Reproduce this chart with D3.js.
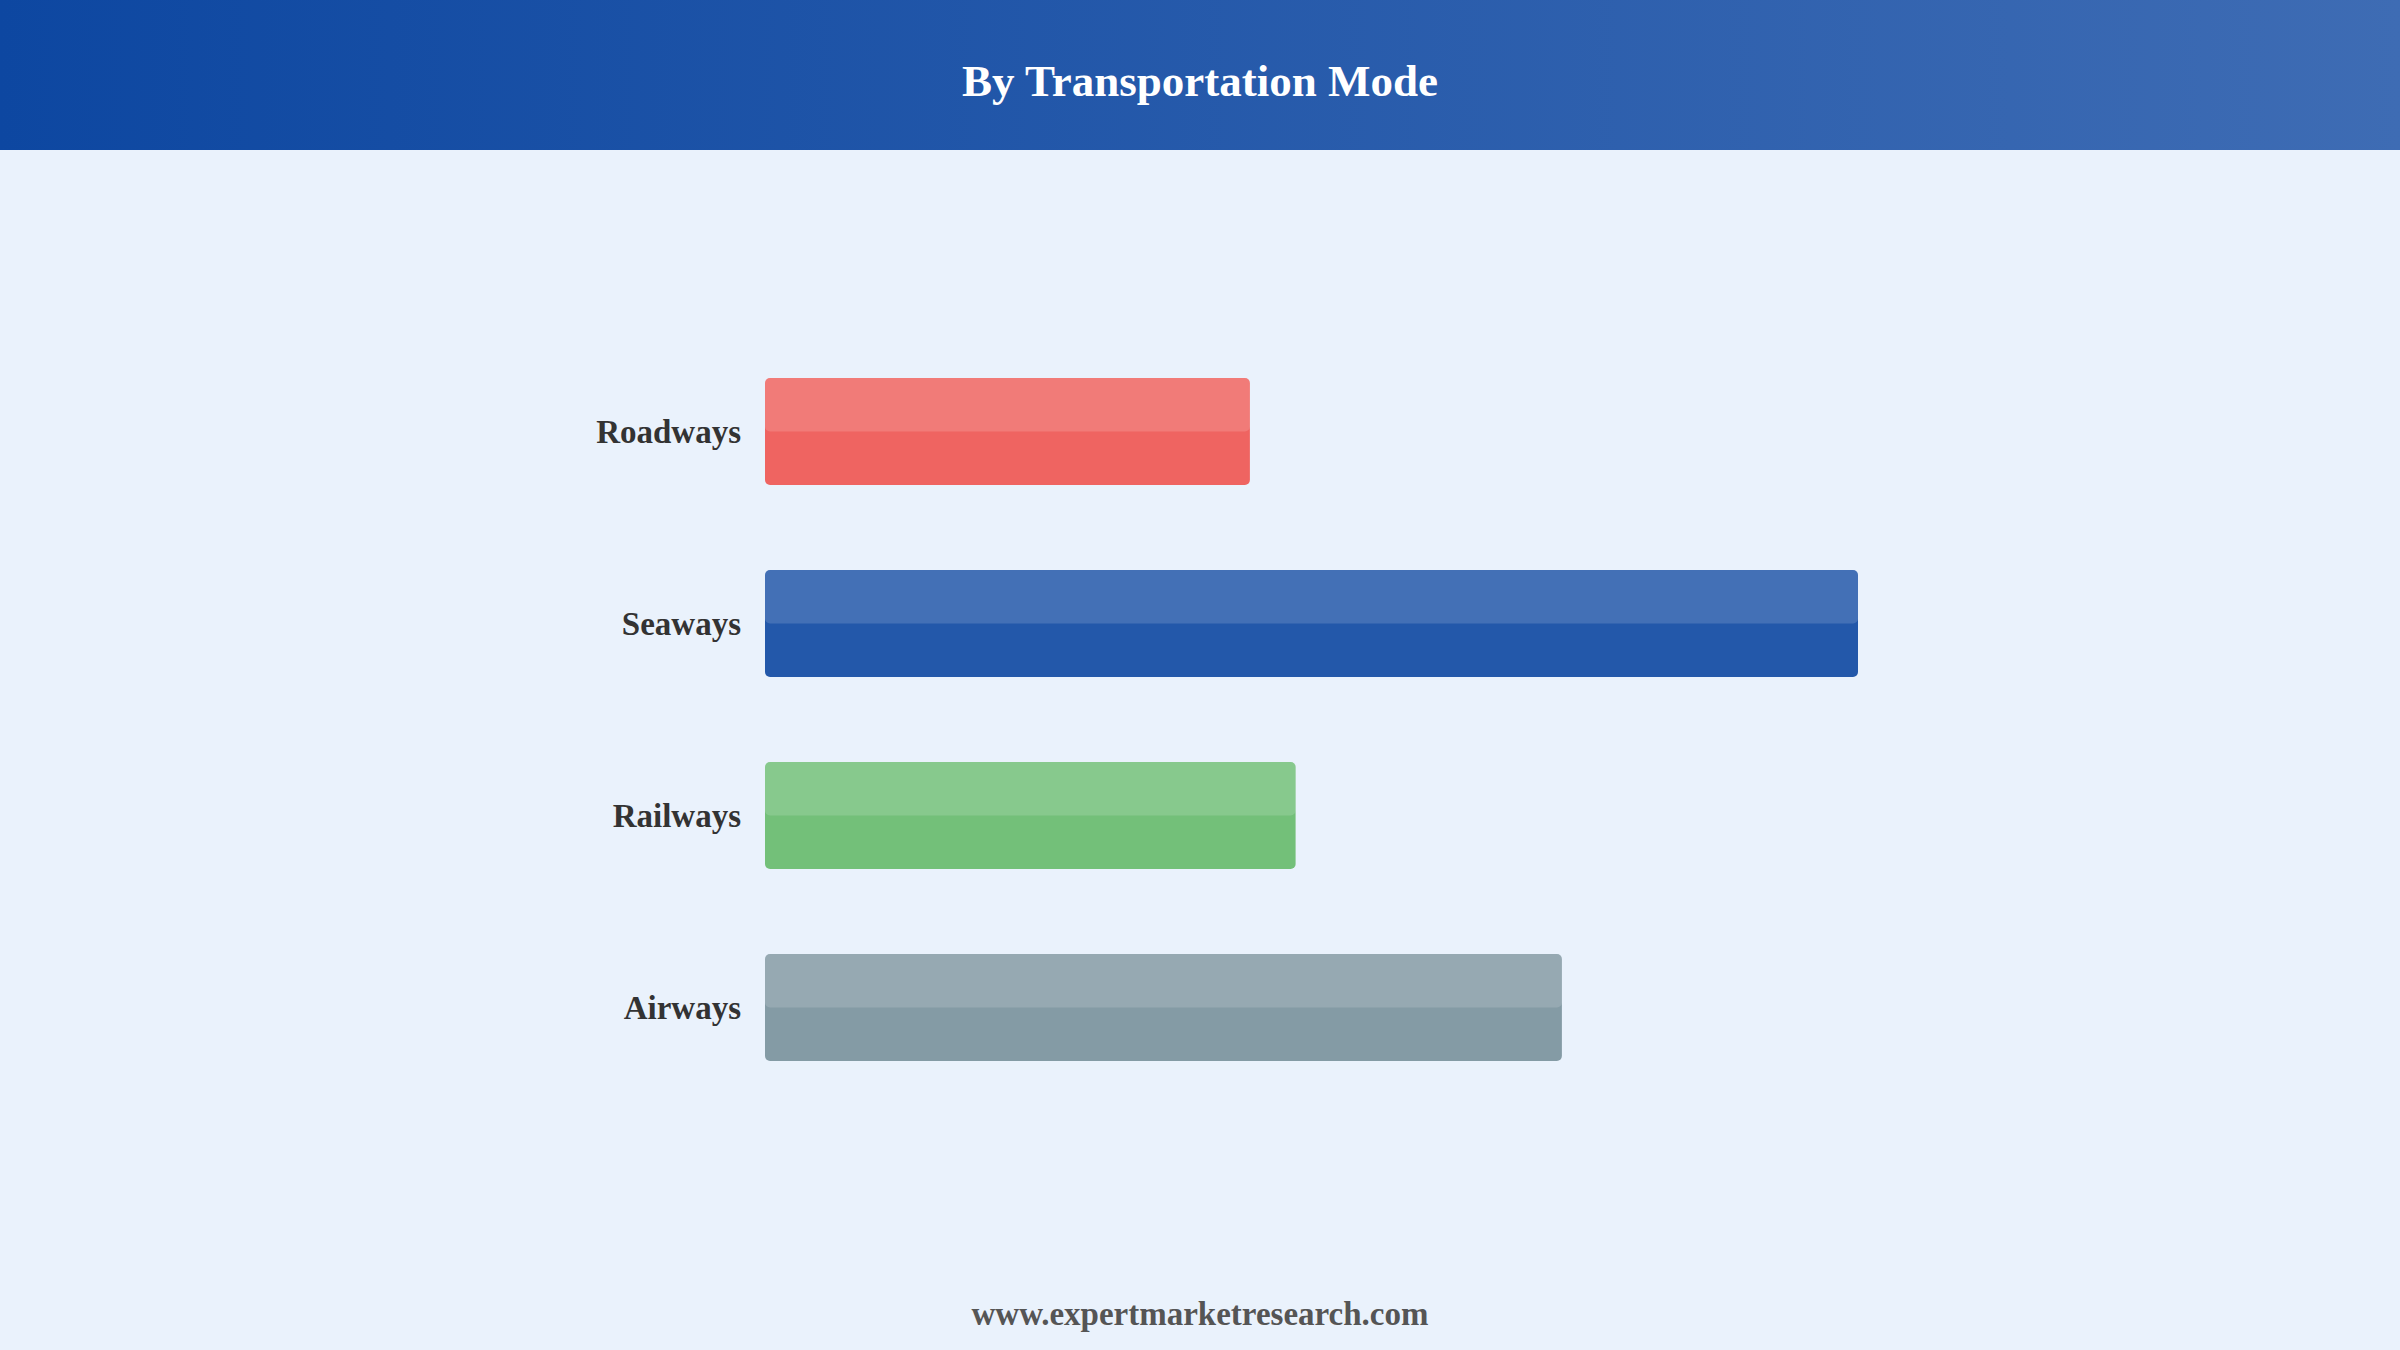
<!DOCTYPE html>
<html>
<head>
<meta charset="utf-8">
<script src="https://cdn.jsdelivr.net/npm/d3@7"></script>
<style>
    html, body { margin: 0; padding: 0; background: #eaf2fc; }
    #chart { width: 2400px; height: 1350px; }
    .label text { font-family: "Liberation Serif", "Times New Roman", serif; font-weight: bold; font-size: 33px; fill: #333; }
</style>
</head>
<body>
<div id="chart"></div>
<script>

const modes = ["Roadways", "Seaways", "Railways", "Airways"];
const shares = [24.4, 55.0, 26.7, 40.1];
const barColors = ["#ef6461", "#2358aa", "#73c079", "#849ba5"];

const title = "By Transportation Mode";
const source = "www.expertmarketresearch.com";

const data = modes.map(function(m, i) { return {mode: m, value: shares[i], color: barColors[i]}; });

const width = 2400;
const height = 1350;
const margin = {top: 378, left: 765, right: 542, bottom: 289};

const canvas = d3.select("#chart")
    .append("svg")
    .attr("width", width)
    .attr("height", height);

/*header band with gradient*/

const defs = canvas.append("defs");
const grad = defs.append("linearGradient")
    .attr("id", "headerGrad")
    .attr("x1", "0%").attr("x2", "100%")
    .attr("y1", "0%").attr("y2", "0%");
grad.append("stop").attr("offset", "0%").attr("stop-color", "#0d47a1");
grad.append("stop").attr("offset", "100%").attr("stop-color", "#3e6cb4");

canvas.append("rect")
    .attr("width", width)
    .attr("height", height)
    .attr("fill", "#eaf2fc");

canvas.append("rect")
    .attr("width", width)
    .attr("height", 150)
    .attr("fill", "url(#headerGrad)");

canvas.append("text")
    .attr("x", width / 2)
    .attr("y", 96)
    .attr("text-anchor", "middle")
    .attr("font-family", "Liberation Serif, Times New Roman, serif")
    .attr("font-weight", "bold")
    .attr("font-size", 45)
    .attr("fill", "#ffffff")
    .text(title);

/*scales*/

const xScale = d3.scaleLinear()
    .domain([0, d3.max(shares)])
    .range([margin.left, width - margin.right]);

const yScale = d3.scaleBand()
    .domain(modes)
    .range([margin.top, height - margin.bottom])
    .paddingInner(0.443)
    .paddingOuter(0);

/*bars: base colour plus lighter top half*/

const bars = canvas.append("g").selectAll("g")
    .data(data)
    .enter()
    .append("g");

bars.append("rect")
    .attr("x", xScale(0))
    .attr("y", function(d) { return yScale(d.mode); })
    .attr("width", function(d) { return xScale(d.value) - xScale(0); })
    .attr("height", yScale.bandwidth())
    .attr("rx", 5)
    .attr("fill", function(d) { return d.color; });

bars.append("rect")
    .attr("x", xScale(0))
    .attr("y", function(d) { return yScale(d.mode); })
    .attr("width", function(d) { return xScale(d.value) - xScale(0); })
    .attr("height", yScale.bandwidth() / 2)
    .attr("rx", 5)
    .attr("fill", "#ffffff")
    .attr("opacity", 0.15);

/*category labels*/

const yAxis = canvas.append("g")
    .attr("class", "label")
    .attr("transform", `translate(${margin.left},0)`)
    .call(d3.axisLeft(yScale).tickSize(0).tickPadding(24));

yAxis.select(".domain").remove();
yAxis.selectAll("text").attr("dy", "0.36em");

/*footer*/

canvas.append("text")
    .attr("x", width / 2)
    .attr("y", 1325)
    .attr("text-anchor", "middle")
    .attr("font-family", "Liberation Serif, Times New Roman, serif")
    .attr("font-weight", "bold")
    .attr("font-size", 33)
    .attr("fill", "#555555")
    .text(source);

</script>
</body>
</html>
